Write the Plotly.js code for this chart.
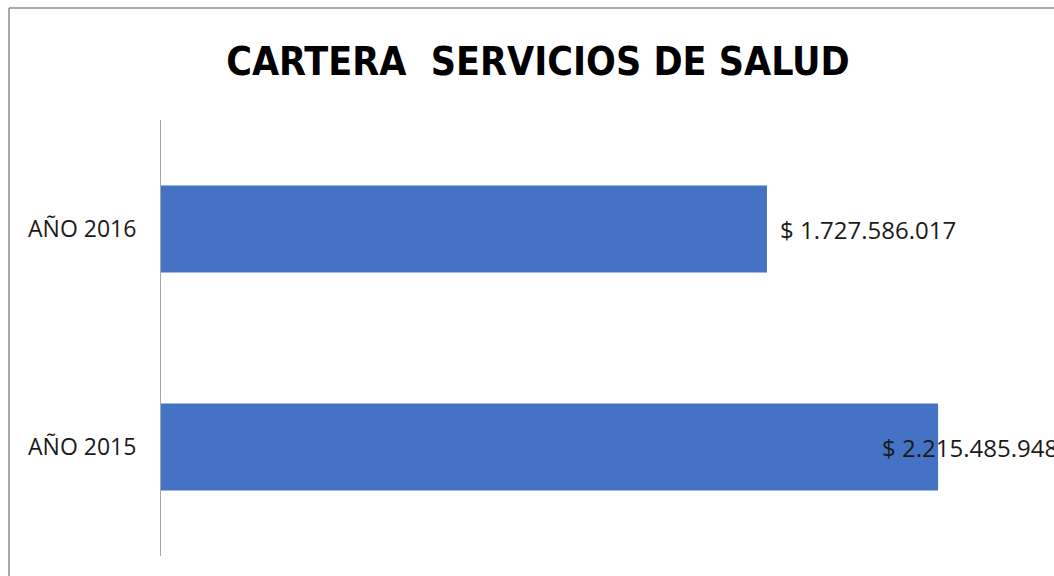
<!DOCTYPE html>
<html><head><meta charset="utf-8">
<script src="https://cdn.plot.ly/plotly-3.0.1.min.js"></script>
<style>html,body{margin:0;padding:0;background:#fff;overflow:hidden}</style>
</head><body>
<div id="chart" style="width:1054px;height:576px"></div>
<script>
const categories = ['AÑO 2015', 'AÑO 2016'];
const values = [2215485948, 1727586017];
const valueLabels = ['$ 2.215.485.948', '$ 1.727.586.017'];
const labelShifts = [-58, 11];

const trace = {
  type: 'bar', orientation: 'h',
  y: categories, x: values,
  marker: {color: '#4472C4'},
  hoverinfo: 'none'
};

const annotations = categories.map((c, i) => ({
  x: values[i], y: c, xref: 'x', yref: 'y',
  text: valueLabels[i], showarrow: false,
  xanchor: 'left', yanchor: 'middle', xshift: labelShifts[i],
  font: {family: 'Open Sans, sans-serif', size: 24, color: '#1a1a1a'}
}));

const layout = {
  width: 1054, height: 576,
  margin: {l: 161, r: 0, t: 120, b: 20, pad: 0},
  paper_bgcolor: '#fff', plot_bgcolor: '#fff',
  showlegend: false,
  bargap: 0.6,
  title: {text: 'CARTERA  SERVICIOS DE SALUD', x: 0.5104, xref: 'container', y: 0.894, yref: 'container', yanchor: 'middle',
    font: {family: 'DejaVu Sans Condensed, sans-serif', size: 39, color: '#000', weight: 'bold'}},
  xaxis: {range: [0, 2546000000], visible: false, fixedrange: true},
  yaxis: {type: 'category', categoryorder: 'array', categoryarray: categories,
    showline: true, linecolor: '#a6a6a6', linewidth: 1, ticks: '', showgrid: false, zeroline: false,
    ticklabelstandoff: 19,
    tickfont: {family: 'Open Sans, sans-serif', size: 23, color: '#1a1a1a'}},
  annotations: annotations,
  shapes: [
    {type: 'line', xref: 'paper', yref: 'paper', x0: -0.1702, x1: 1.2, y0: 1.2569, y1: 1.2569, line: {color: '#8c8c8c', width: 1.5}},
    {type: 'line', xref: 'paper', yref: 'paper', x0: -0.1702, x1: -0.1702, y0: -0.2, y1: 1.2569, line: {color: '#8c8c8c', width: 1.5}}
  ]
};

Plotly.newPlot('chart', [trace], layout, {displayModeBar: false, staticPlot: true});
</script>
</body></html>
